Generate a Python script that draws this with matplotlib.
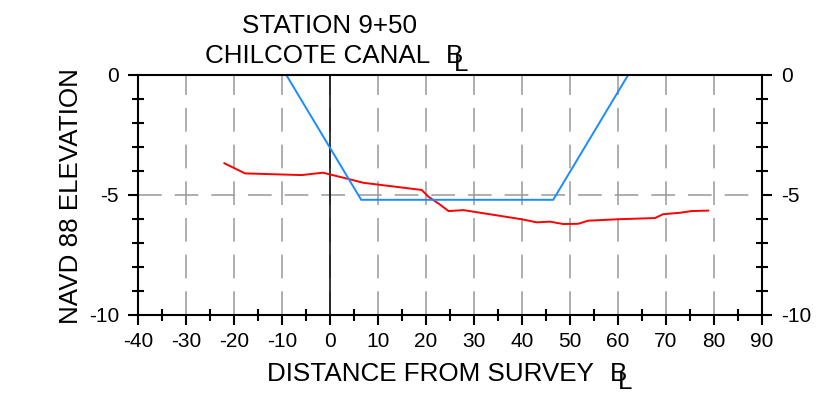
import matplotlib
matplotlib.use("Agg")
import matplotlib.pyplot as plt
from matplotlib.ticker import MultipleLocator

plt.rcParams['font.family'] = ['Liberation Sans', 'DejaVu Sans']
plt.rcParams['axes.unicode_minus'] = False

# ---- data ----
design_x = [-9.1, 6.5, 46.5, 62.1]
design_y = [0.0, -5.2, -5.2, 0.0]

ground_x = [-22.0, -17.7, -5.9, -1.5, 4.2, 6.9, 19.1, 20.5, 22.7, 24.7, 27.8,
            39.9, 43.1, 45.8, 48.6, 51.7, 53.8, 60.1, 67.7, 69.4, 72.9, 75.3, 78.8]
ground_y = [-3.68, -4.10, -4.17, -4.07, -4.35, -4.49, -4.79, -5.07, -5.37, -5.67, -5.63,
            -6.01, -6.14, -6.11, -6.21, -6.20, -6.07, -6.01, -5.96, -5.80, -5.74, -5.67, -5.65]

x_ticks = [-40, -30, -20, -10, 0, 10, 20, 30, 40, 50, 60, 70, 80, 90]
y_ticks = [0, -5, -10]

title1 = "STATION 9+50"
title2 = "CHILCOTE CANAL"
xlabel = "DISTANCE FROM SURVEY"
ylabel = "NAVD 88 ELEVATION"

W, H = 816, 404
fig = plt.figure(figsize=(W / 100, H / 100), dpi=100)
ax = fig.add_axes([138 / W, 1 - 315 / H, (762 - 138) / W, (315 - 75) / H])

ax.set_xlim(-40, 90)
ax.set_ylim(-10, 0)
ax.set_xticks(x_ticks)
ax.set_yticks(y_ticks)
ax.xaxis.set_minor_locator(MultipleLocator(5))
ax.yaxis.set_minor_locator(MultipleLocator(1))

ax.grid(True, which='major', color='#999999', linewidth=1.1,
        linestyle=(0, (15.5, 8.5)))
ax.set_axisbelow(True)
ax.axvline(0, color='black', linewidth=1.1, zorder=2)

ax.plot(ground_x, ground_y, color='#ff0000', linewidth=1.4, zorder=3)
ax.plot(design_x, design_y, color='#1a8cff', linewidth=1.4, zorder=3)

for s in ax.spines.values():
    s.set_linewidth(1.5)
    s.set_zorder(4)

ax.tick_params(axis='both', which='major', direction='out', length=7.2, width=1.5,
               labelsize=15, right=True, labelright=True, top=False)
ax.tick_params(axis='both', which='minor', direction='inout', length=8, width=1.5,
               right=True, top=False)
ax.tick_params(axis='y', which='major', pad=6.5)
ax.tick_params(axis='x', which='major', pad=5)

fs = 18.7
t1 = fig.text(329 / W, 1 - 33 / H, title1, ha='center', va='baseline', fontsize=fs)
t2 = fig.text(205 / W, 1 - 63 / H, title2, ha='left', va='baseline', fontsize=fs)
tx = fig.text(267 / W, 1 - 381 / H, xlabel, ha='left', va='baseline', fontsize=fs)
fig.text(78 / W, 1 - 196 / H, ylabel, rotation=90, rotation_mode='anchor',
         ha='center', va='baseline', fontsize=fs)

fig.canvas.draw()


def add_cl(txt, base_px):
    bb = txt.get_window_extent()
    x0 = bb.x1 + 16
    fig.text(x0 / W, 1 - base_px / H, "B", fontsize=fs, ha='left', va='baseline')
    fig.text((x0 + 8) / W, 1 - (base_px + 8) / H, "L", fontsize=fs,
             ha='left', va='baseline')


add_cl(t2, 63)
add_cl(tx, 381)

fig.savefig("out.png", dpi=100)
